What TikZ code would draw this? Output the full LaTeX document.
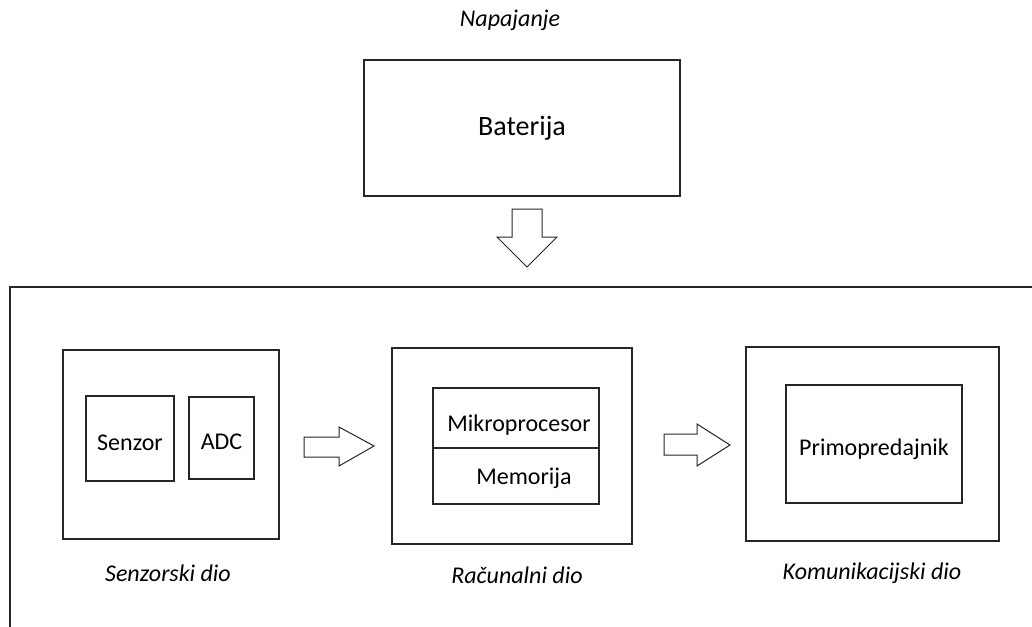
\documentclass[tikz,border=0pt]{standalone}
\usepackage{fontspec}
\setmainfont{Carlito}
\begin{document}
\begin{tikzpicture}[x=1pt,y=-1pt,
  box/.style={draw=black!85, line width=1.2pt, rectangle, inner sep=0pt, font=\fontsize{24}{28}\selectfont},
  lowtext/.style={text height=23pt, text depth=0pt},
  captxt/.style={font=\fontsize{24}{28}\selectfont\itshape, inner sep=0pt},
  blockarrow/.style={draw=black!85, line width=1pt, fill=white, line join=miter}]
\useasboundingbox (0,0) rectangle (1032,626);
\fill[white] (0,0) rectangle (1032,626);
% outer frame
\coordinate (fbl) at (10,627);
\coordinate (ftl) at (10,287);
\coordinate (ftr) at (1034,287);
\draw[black!85, line width=1.2pt] (fbl) -- (ftl) -- (ftr);
% power
\node[captxt] (nap) at (510,20) {Napajanje};
\node[box, minimum width=316pt, minimum height=136pt, font=\fontsize{28}{32}\selectfont] (bat) at (522,128) {Baterija};
% sensor part
\node[box, minimum width=216pt, minimum height=189pt] (sens) at (171,444.5) {};
\node[box, lowtext, minimum width=88pt, minimum height=85pt] (senzor) at (130,438.5) {Senzor};
\node[box, lowtext, minimum width=65pt, minimum height=82pt] (adc) at (221.5,438) {ADC};
\node[captxt] (senslbl) at (168,573) {Senzorski dio};
% computing part
\node[box, minimum width=240pt, minimum height=196pt] (rac) at (512,446) {};
\node[box, minimum width=166pt, minimum height=60pt] (mikro) at (516,418) {};
\node[box, minimum width=166pt, minimum height=56pt] (mem) at (516,476) {};
\node[inner sep=0pt, font=\fontsize{24}{28}\selectfont] (mikrot) at (519,425) {Mikroprocesor};
\node[inner sep=0pt, font=\fontsize{24}{28}\selectfont] (memt) at (524,478) {Memorija};
\node[captxt] (raclbl) at (517,575) {Računalni dio};
% communication part
\node[box, minimum width=253pt, minimum height=194pt] (kom) at (872.5,444) {};
\node[box, lowtext, minimum width=176pt, minimum height=118pt] (prim) at (874,444) {Primopredajnik};
\node[captxt] (komlbl) at (872,573) {Komunikacijski dio};
% block arrows
\draw[blockarrow] (512,209) -- (542,209) -- (542,237) -- (557,237) -- (527,267) -- (497,237) -- (512,237) -- cycle;
\draw[blockarrow] (304,437) -- (339,437) -- (339,427) -- (374,446) -- (339,466) -- (339,457) -- (304,457) -- cycle;
\draw[blockarrow] (664,434) -- (697,434) -- (697,424) -- (730,445) -- (697,466) -- (697,455) -- (664,455) -- cycle;
\end{tikzpicture}
\end{document}
